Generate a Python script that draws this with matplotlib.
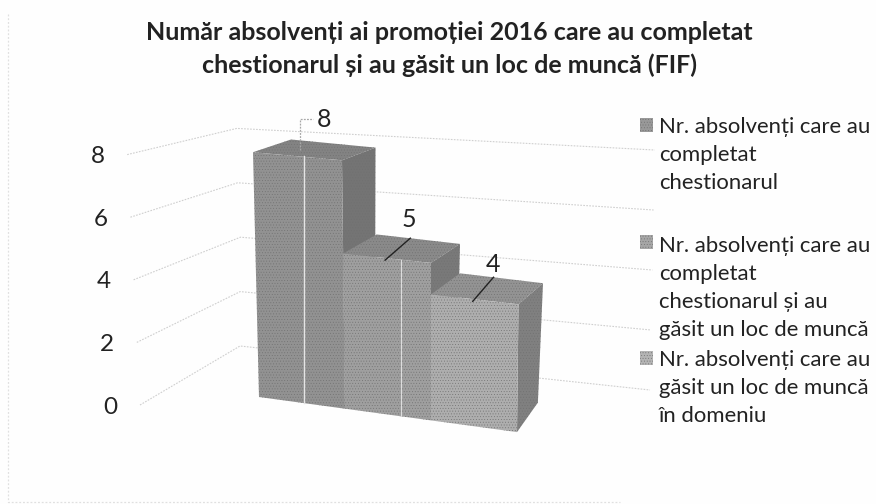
import matplotlib
matplotlib.use('Agg')
import matplotlib.pyplot as plt
from matplotlib.patches import Polygon, Rectangle

plt.rcParams['font.family'] = ['Lato', 'Open Sans', 'DejaVu Sans']
plt.rcParams['hatch.linewidth'] = 0.3

# data
title = 'Număr absolvenți ai promoției 2016 care au completat\nchestionarul și au găsit un loc de muncă (FIF)'
series = ['Nr. absolvenți care au\ncompletat\nchestionarul',
          'Nr. absolvenți care au\ncompletat\nchestionarul și au\ngăsit un loc de muncă',
          'Nr. absolvenți care au\ngăsit un loc de muncă\nîn domeniu']
values = [8, 5, 4]
ticks = [0, 2, 4, 6, 8]

# colours of the scanned grey faces
front_cols = ['#929292', '#9f9f9f', '#aeaeae']
top_cols = ['#838383', '#8a8a8a', '#939393']
side_cols = ['#747474', '#797979', '#808080']
hatch_col = '#707070'
legend_cols = ['#999999', '#a6a6a6', '#b4b4b4']
grid_col = '#cfcfcf'
text_col = '#222222'


# fake 3d projection, everything ends up in image pixels
def front(u, h):
    x = 259 + 86 * u + h * (-0.75 + 0.375 * u)
    y = 397 + 11.7 * u - (30.6 + 0.45 * u) * h
    return x, y


def back(u, h):
    x, y = front(u, h)
    dx = 38 - 4.5 * u - 0.9 * max(0, 4 - h)
    dy = 29.5 - 2.1 * h
    return x + dx, y - dy


fig = plt.figure(figsize=(8.76, 5.04), dpi=100, facecolor='#fefefe')
ax = fig.add_axes([0, 0, 1, 1])
ax.set_xlim(0, 876)
ax.set_ylim(504, 0)
ax.axis('off')

# faint frame of the original chart box
ax.plot([8, 8, 620], [14, 502, 502], color='#e0e0e0', lw=0.9, ls=(0, (1.5, 1.5)), zorder=1)

# gridlines on the two walls
for t in ticks:
    xs = [140 - 1.6 * t, 240 - 0.4 * t + 0.5 * t * (t < 5), 650 + 0.6 * t]
    ys = [405 - 31.3 * t, 346 - 27.2 * t, 390 - 30 * t]
    ax.plot(xs, ys, color=grid_col, lw=0.8, ls=(0, (1.5, 1.2)), zorder=1)
    ax.text(110 - 1.5 * t, ys[0] + 2, str(t), fontsize=17.5, color=text_col, ha='center', va='center')

for i, v in enumerate(values):
    ax.add_patch(Polygon([front(i, v), back(i, v), back(i + 1, v), front(i + 1, v)],
                         fc=top_cols[i], ec=hatch_col, lw=0, hatch='......', zorder=3))
    ax.add_patch(Polygon([front(i + 1, 0), back(i + 1, 0), back(i + 1, v), front(i + 1, v)],
                         fc=side_cols[i], ec=hatch_col, lw=0, hatch='......', zorder=3))
for i, v in enumerate(values):
    ax.add_patch(Polygon([front(i, 0), front(i, v), front(i + 1, v), front(i + 1, 0)],
                         fc=front_cols[i], ec=hatch_col, lw=0, hatch='......', zorder=4 + i))

# value labels with their leader lines
for i, v in enumerate(values):
    fx, fy = front(i + 0.5, v)
    bx, by = back(i + 0.5, v)
    if i == 0:
        ax.plot([fx + 2, fx + 2, fx + 15], [fy - 6, fy - 37, fy - 37], color='#a8a8a8', lw=0.9, ls=(0, (1.5, 1)), zorder=8)
        ax.plot([fx + 6, fx + 6], [fy, front(i + 0.5, 0)[1]], color='#e4e4e4', lw=1, zorder=8)
        ax.text(fx + 27, fy - 37, str(v), fontsize=18, color=text_col, ha='center', va='center')
    elif i == 1:
        ax.plot([fx - 2, bx - 8], [fy + 2, by - 1], color='#222222', lw=1, zorder=8)
        ax.plot([fx + 14, fx + 14], [fy + 2, front(i + 0.5, 0)[1]], color='#dddddd', lw=0.8, zorder=8)
        ax.text(bx - 9, by - 20, str(v), fontsize=18, color=text_col, ha='center', va='center')
    else:
        ax.plot([fx - 2, bx - 8], [fy + 2, by - 1], color='#222222', lw=1, zorder=8)
        ax.text(bx - 9, by - 14, str(v), fontsize=18, color=text_col, ha='center', va='center')

ax.text(449, 49, title, fontsize=18, fontweight='bold', color=text_col,
        ha='center', va='center', linespacing=1.45)

# legend, built by hand because of the uneven spacing in the source
swatch_y = [125, 242, 358]
legend_y = [155, 288, 388]
for s, sy, y, c in zip(series, swatch_y, legend_y, legend_cols):
    ax.add_patch(Rectangle((640, sy - 7), 13, 14, fc=c, ec=hatch_col, lw=0, hatch='......', zorder=5))
    ax.text(659, y, s, fontsize=15.9, color=text_col, ha='left', va='center', linespacing=1.5)

fig.savefig('out.png', dpi=100, facecolor=fig.get_facecolor())
